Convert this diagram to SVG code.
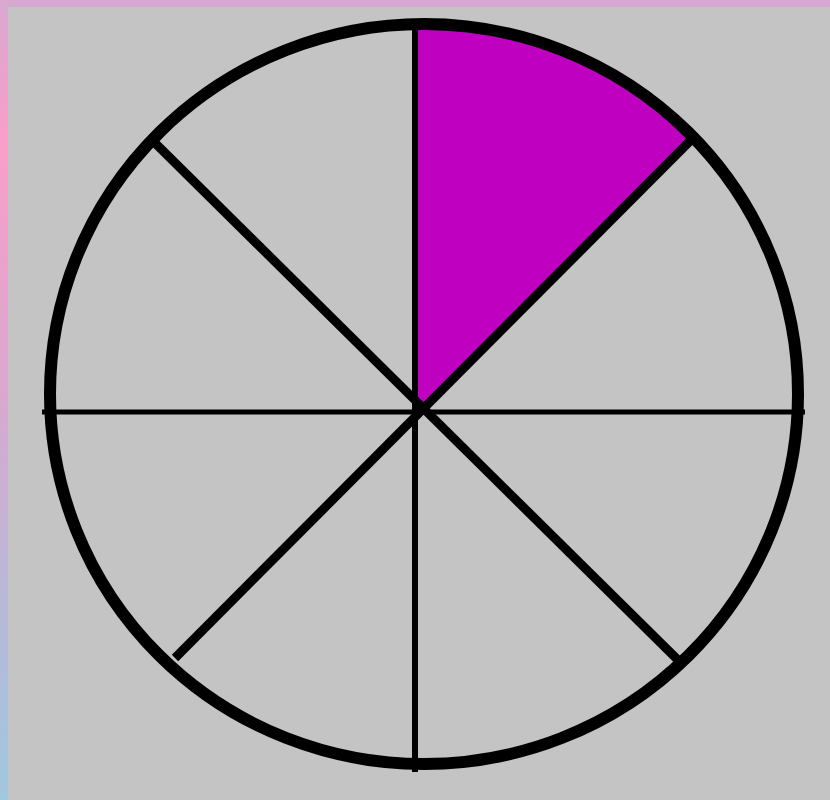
<svg xmlns="http://www.w3.org/2000/svg" width="830" height="800" viewBox="0 0 830 800">
  <defs>
    <linearGradient id="edge" x1="0" y1="0" x2="0" y2="1">
      <stop offset="0" stop-color="#d8a8d0"/>
      <stop offset="0.18" stop-color="#f8a0c8"/>
      <stop offset="0.5" stop-color="#d8a8d0"/>
      <stop offset="0.75" stop-color="#b8b8d8"/>
      <stop offset="1" stop-color="#a0c8e0"/>
    </linearGradient>
    <style>
      .spoke { stroke: #000; fill: none; stroke-linecap: butt; }
    </style>
  </defs>
  <rect x="0" y="0" width="830" height="800" fill="#c4c4c4"/>
  <rect x="0" y="0" width="830" height="7" fill="#d6a8d0"/>
  <rect x="0" y="0" width="8" height="800" fill="url(#edge)"/>
  <g id="sector">
    <path d="M418,412 L418,24 A374,370 0 0 1 693,138 Z" fill="#c000c0"/>
  </g>
  <g id="connectors">
    <line class="spoke" x1="415" y1="20" x2="415" y2="772" stroke-width="6"/>
    <line class="spoke" x1="42" y1="412" x2="805" y2="412" stroke-width="5"/>
    <line class="spoke" x1="152" y1="140" x2="683" y2="665" stroke-width="9"/>
    <line class="spoke" x1="693" y1="138" x2="175" y2="658" stroke-width="9"/>
  </g>
  <g id="circle">
    <ellipse cx="424" cy="394" rx="374" ry="370" fill="none" stroke="#000" stroke-width="12"/>
  </g>
</svg>
